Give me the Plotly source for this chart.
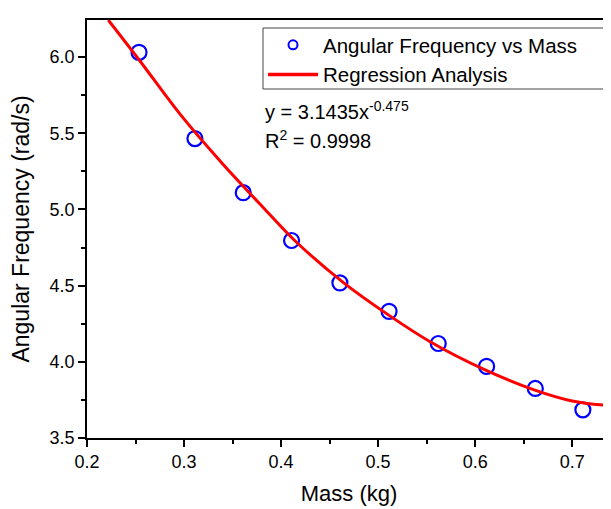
import plotly.graph_objects as go

# Measured data
mass = [0.2536, 0.3112, 0.3610, 0.4108, 0.4606, 0.5113, 0.5620, 0.6118, 0.6620, 0.7110]
omega = [6.031, 5.465, 5.110, 4.796, 4.518, 4.331, 4.120, 3.970, 3.825, 3.685]

# Regression curve
fit_x = [0.2219, 0.2546, 0.2959, 0.3392, 0.3835, 0.4162, 0.4643, 0.5117, 0.5536, 0.6103, 0.6608, 0.7000, 0.7402]
fit_y = [6.243, 5.974, 5.625, 5.303, 5.000, 4.783, 4.520, 4.303, 4.132, 3.947, 3.816, 3.743, 3.711]

x_ticks = [0.2, 0.3, 0.4, 0.5, 0.6, 0.7]
y_ticks = [3.5, 4.0, 4.5, 5.0, 5.5, 6.0]

FONT = "Liberation Sans, Arial, sans-serif"
BLUE = "#0000ff"
RED = "#ff0000"

fig = go.Figure()
fig.add_trace(go.Scatter(
    x=mass, y=omega, mode="markers", name="Angular Frequency vs Mass", showlegend=False,
    marker=dict(symbol="circle-open", size=15, color=BLUE, line=dict(width=2.2, color=BLUE)),
))
fig.add_trace(go.Scatter(
    x=fit_x, y=fit_y, mode="lines", name="Regression Analysis", showlegend=False,
    line=dict(color=RED, width=3, shape="spline"),
))
# legend entries (no data drawn)
fig.add_trace(go.Scatter(
    x=[None], y=[None], mode="markers", name="Angular Frequency vs Mass",
    marker=dict(symbol="circle-open", size=9, color=BLUE, line=dict(width=2, color=BLUE)),
))
fig.add_trace(go.Scatter(
    x=[None], y=[None], mode="lines", name="Regression Analysis",
    line=dict(color=RED, width=3.5),
))

PW, PH = 524, 418


def px_x(p):
    return (p - 87) / PW


def px_y(p):
    return (438 - p) / PH


# legend frame
fig.add_shape(type="rect", xref="paper", yref="paper",
              x0=px_x(263), x1=px_x(609), y0=px_y(89), y1=px_y(28),
              line=dict(color="#444444", width=1), fillcolor="rgba(0,0,0,0)", layer="above")

fig.add_annotation(xref="paper", yref="paper", x=px_x(263), y=px_y(110),
                   xanchor="left", yanchor="middle",
                   text="y = 3.1435x<sup>-0.475</sup>", showarrow=False,
                   font=dict(family=FONT, size=20, color="black"))
fig.add_annotation(xref="paper", yref="paper", x=px_x(263), y=px_y(139),
                   xanchor="left", yanchor="middle",
                   text="R<sup>2</sup> = 0.9998", showarrow=False,
                   font=dict(family=FONT, size=20, color="black"))

axis_common = dict(showline=True, linecolor="black", linewidth=1.5, ticks="outside",
                   ticklen=7, tickwidth=1.5, tickcolor="black", showgrid=False, zeroline=False,
                   automargin=False,
                   tickfont=dict(family=FONT, size=18, color="black"))

fig.update_xaxes(range=[0.2, 0.74], tickvals=x_ticks, ticktext=[f"{v:.1f}" for v in x_ticks],
                 mirror=True,
                 minor=dict(dtick=0.05, tick0=0.2, ticks="outside", ticklen=4, tickwidth=1.5, tickcolor="black"),
                 title=dict(text="Mass (kg)", font=dict(family=FONT, size=22, color="black"), standoff=14),
                 **axis_common)
fig.update_yaxes(range=[3.5, 6.243], tickvals=y_ticks, ticktext=[f"{v:.1f}" for v in y_ticks],
                 mirror=False, ticklabelstandoff=0,
                 minor=dict(dtick=0.25, tick0=3.5, ticks="outside", ticklen=4, tickwidth=1.5, tickcolor="black"),
                 title=dict(text="Angular Frequency (rad/s)", font=dict(family=FONT, size=23, color="black"), standoff=14),
                 **axis_common)

# the page adds an 8px body margin, so the figure is offset by 8px
fig.update_layout(
    width=611, height=509,
    margin=dict(l=79, r=8, t=12, b=79),
    paper_bgcolor="white", plot_bgcolor="white",
    showlegend=True,
    legend=dict(x=px_x(263), y=px_y(25), xanchor="left", yanchor="top",
                bgcolor="rgba(0,0,0,0)", borderwidth=0,
                font=dict(family=FONT, size=20.5, color="black"),
                tracegroupgap=0, itemwidth=50),
)

fig.write_html("out.html")
